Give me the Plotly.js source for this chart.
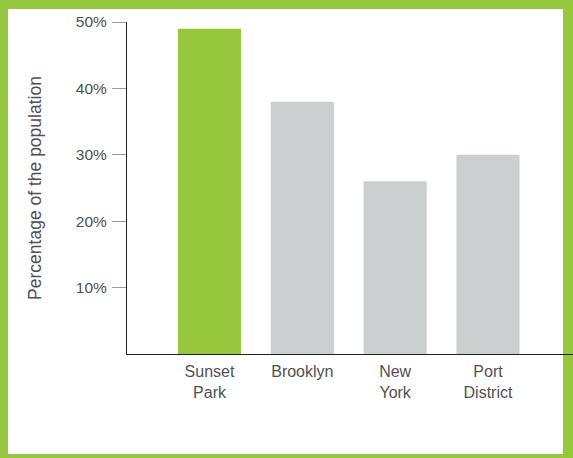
<!DOCTYPE html>
<html>
<head>
<meta charset="utf-8">
<script src="https://cdn.plot.ly/plotly-3.0.1.min.js"></script>
<style>
  html, body { margin: 0; padding: 0; }
  #frame { position: relative; width: 573px; height: 458px; background: #95c83d; overflow: hidden; }
  #inner { position: absolute; left: 8px; top: 9px; width: 555px; height: 445px; background: #ffffff; }
  #chart { position: absolute; left: 0; top: 0; width: 573px; height: 458px; }
</style>
</head>
<body>
<div id="frame">
  <div id="inner"></div>
  <div id="chart"></div>
</div>
<script>
const categories = ["Sunset<br>Park", "Brooklyn", "New<br>York", "Port<br>District"];
const values = [49, 38, 26, 30];
const barColors = ["#95c83d", "#cbcfd0", "#cbcfd0", "#cbcfd0"];
const yTickVals = [10, 20, 30, 40, 50];
const yTickText = ["10%", "20%", "30%", "40%", "50%"];
const yTitle = "Percentage of the population";

const textColor = "#505050";
const fontFamily = "'Liberation Sans', Arial, sans-serif";

const trace = {
  type: "bar",
  x: categories,
  y: values,
  width: 0.68,
  marker: { color: barColors, line: { width: 0 } },
  hoverinfo: "skip"
};

const layout = {
  width: 573,
  height: 458,
  margin: { l: 127, r: 0, t: 22, b: 104, pad: 0 },
  paper_bgcolor: "rgba(0,0,0,0)",
  plot_bgcolor: "rgba(0,0,0,0)",
  showlegend: false,
  font: { family: fontFamily, color: textColor, size: 16 },
  xaxis: {
    type: "category",
    range: [-0.889, 3.916],
    showline: true,
    linecolor: "#222222",
    linewidth: 1,
    ticks: "",
    showgrid: false,
    zeroline: false,
    tickfont: { family: fontFamily, size: 16, color: textColor },
    ticklabelstandoff: 3,
    fixedrange: true
  },
  yaxis: {
    range: [0, 50],
    tickvals: yTickVals,
    ticktext: yTickText,
    showline: true,
    linecolor: "#222222",
    linewidth: 1,
    ticks: "outside",
    ticklen: 14,
    tickwidth: 1,
    tickcolor: "#9a9a9a",
    showgrid: false,
    zeroline: false,
    tickfont: { family: fontFamily, size: 15.5, color: textColor },
    ticklabelstandoff: 2,
    title: { text: yTitle, font: { family: fontFamily, size: 17.5, color: textColor }, standoff: 29 },
    fixedrange: true
  }
};

Plotly.newPlot("chart", [trace], layout, { displayModeBar: false, staticPlot: true });
</script>
</body>
</html>
